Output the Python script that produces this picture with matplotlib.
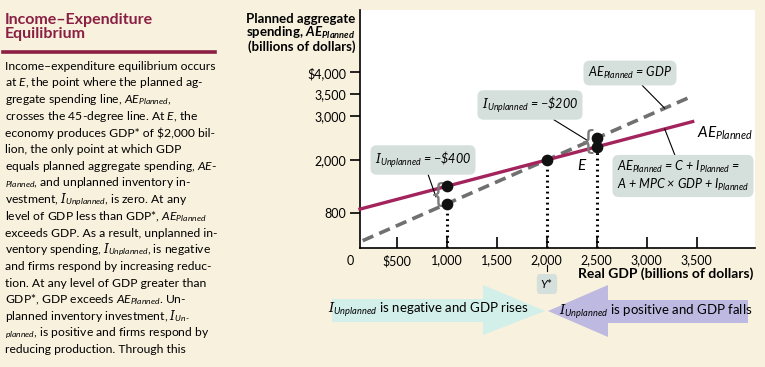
import numpy as np
import matplotlib.pyplot as plt
from matplotlib.patches import Polygon

plt.rcParams['font.family'] = ['Lato', 'DejaVu Sans']
plt.rcParams['mathtext.fontset'] = 'custom'
plt.rcParams['mathtext.rm'] = 'Lato'
plt.rcParams['mathtext.it'] = 'Lato:italic'
plt.rcParams['mathtext.bf'] = 'DejaVu Serif:italic'
plt.rcParams['mathtext.bfit'] = 'Lato:italic:bold'

# data (billions of dollars)
ae_x = [133, 3460]          # planned aggregate spending line
ae_y = [880, 2876]
deg45_x = [160, 3430]       # 45-degree line
deg45_y = [160, 3430]
dot_x = [1000, 1000, 2000, 2500, 2500]
dot_y = [1400, 1000, 2000, 2500, 2300]
drop_x = [1000, 2000, 2500]
drop_top = [1000, 2000, 2500]
xticks = [500, 1000, 1500, 2000, 2500, 3000, 3500]
xlabels = ['$500', '1,000', '1,500', '2,000', '2,500', '3,000', '3,500']
yticks = [800, 2000, 3000, 3500, 4000]
ylabels = ['800', '2,000', '3,000', '3,500', '$4,000']

W, H = 765, 367
cream = '#f8f1dd'
maroon = '#8a1f43'
pink = '#a3245c'
boxc = '#d5e0dc'

def fx(px):
    return px / W

def fy(py):
    return 1 - py / H

fig = plt.figure(figsize=(W / 100, H / 100), dpi=100, facecolor=cream)
ax = fig.add_axes([fx(360), fy(247.7), (755 - 360) / W, (247.7 - 10) / H])
ax.set_facecolor('white')
ax.set_xlim(133, 4083)
ax.set_ylim(0, 5420)
for s in ['top', 'right']:
    ax.spines[s].set_visible(False)
ax.spines['left'].set_linewidth(1.2)
ax.spines['bottom'].set_linewidth(1.2)

ax.set_xticks(xticks)
ax.set_xticklabels(xlabels)
ax.set_yticks(yticks)
ax.set_yticklabels(ylabels)
ax.tick_params(axis='x', direction='in', length=8, width=1.2, pad=5, labelsize=9)
ax.tick_params(axis='y', direction='out', length=7, width=1.2, pad=3, labelsize=9)

# lines
ax.plot(deg45_x, deg45_y, color='#707070', lw=2.6, dashes=(3.2, 1.8), zorder=2)
ax.plot(ae_x, ae_y, color=pink, lw=2.4, zorder=3, clip_on=False)
for x, t in zip(drop_x, drop_top):
    ax.plot([x, x], [0, t], color='black', lw=2.2, dashes=(0.6, 1.2), zorder=2)
ax.scatter(dot_x, dot_y, s=55, color='#111111', zorder=5)

# braces
for bx, by in [(912, 1200), (2412, 2420)]:
    ax.text(bx, by, '{', fontsize=19, color='#7a7a7a', ha='center', va='center',
            fontfamily='DejaVu Sans', zorder=4)

box = dict(boxstyle='round,pad=0.35,rounding_size=0.5', fc=boxc, ec='none')
line = dict(arrowstyle='-', color='black', lw=0.8, shrinkA=0, shrinkB=0)

ax.annotate(r'$AE_{Planned}$ = GDP', xy=(3180, 3180), xytext=(2833, 3983), fontstyle='italic',
            fontsize=9, ha='center', va='center', bbox=box, arrowprops=line)
ax.annotate(r'$\mathbf{I}_{Unplanned}$ = −\$200', xy=(2400, 2455), xytext=(1833, 3254),
            fontstyle='italic', fontsize=9, ha='center', va='center', bbox=box, arrowprops=line)
ax.annotate(r'$\mathbf{I}_{Unplanned}$ = −\$400', xy=(893, 1156), xytext=(763, 2000),
            fontstyle='italic', fontsize=9, ha='center', va='center', bbox=box, arrowprops=line)
ax.annotate(r'$AE_{Planned}$ = C + $I_{Planned}$ =' + '\n' + r'A + MPC × GDP + $I_{Planned}$',
            xy=(3180, 2708), xytext=(3363, 1635), fontsize=9, fontstyle='italic',
            ha='center', va='center', multialignment='left',
            linespacing=1.1, bbox=box, arrowprops=line)
ax.text(3503, 2615, r'$AE_{Planned}$', fontsize=11, ha='left', va='center')
ax.text(2350, 1870, r'$E$', fontsize=11, ha='center', va='center')

# axis texts
fig.text(fx(350), fy(261), '0', fontsize=9, ha='center', va='center')
fig.text(fx(355), fy(33), 'Planned aggregate\nspending, ' + r'$\mathbfit{AE}_{\mathbfit{Planned}}$'
         + '\n(billions of dollars)', fontsize=9.5, fontweight='bold', ha='right', va='center',
         linespacing=1.0)
fig.text(fx(753), fy(274), 'Real GDP (billions of dollars)', fontsize=10, fontweight='bold',
         ha='right', va='center')
fig.add_artist(plt.Line2D([fx(546.7), fx(546.7)], [fy(265), fy(271)], color='black', lw=0.8))
fig.text(fx(547), fy(284), r'$Y$*', fontsize=8.5, ha='center', va='center',
         bbox=dict(boxstyle='round,pad=0.3', fc=boxc, ec='none'))

# direction arrows
left_arrow = [(332, 299), (483, 299), (483, 285), (545, 311), (483, 335), (483, 322), (332, 322)]
right_arrow = [(748, 300), (608, 300), (608, 285), (548, 311), (608, 337), (608, 323), (748, 323)]
fig.add_artist(Polygon([(fx(a), fy(b)) for a, b in left_arrow], closed=True,
                       fc='#d3efe9', ec='none', transform=fig.transFigure))
fig.add_artist(Polygon([(fx(a), fy(b)) for a, b in right_arrow], closed=True,
                       fc='#bdb9e1', ec='none', transform=fig.transFigure))
fig.text(fx(428), fy(310), r'$\mathbf{I}_{Unplanned}$ is negative and GDP rises', fontsize=9.5,
         ha='center', va='center')
fig.text(fx(656), fy(312), r'$\mathbf{I}_{Unplanned}$ is positive and GDP falls', fontsize=9.5,
         ha='center', va='center')

# side panel
fig.text(fx(5), fy(27), 'Income–Expenditure\nEquilibrium', fontsize=11.5, fontweight='bold',
         color=maroon, ha='left', va='center', linespacing=1.05)
fig.add_artist(plt.Line2D([fx(3), fx(215)], [fy(52), fy(52)], color=maroon, lw=2.6))
body = [
    'Income–expenditure equilibrium occurs',
    r'at $E$, the point where the planned ag-',
    r'gregate spending line, $AE_{Planned}$,',
    r'crosses the 45-degree line. At $E$, the',
    'economy produces GDP* of $2,000 bil-',
    'lion, the only point at which GDP',
    r'equals planned aggregate spending, $AE$-',
    r'${}_{Planned}$, and unplanned inventory in-',
    r'vestment, $\mathbf{I}_{Unplanned}$, is zero. At any',
    r'level of GDP less than GDP*, $AE_{Planned}$',
    'exceeds GDP. As a result, unplanned in-',
    r'ventory spending, $\mathbf{I}_{Unplanned}$, is negative',
    'and firms respond by increasing reduc-',
    'tion. At any level of GDP greater than',
    r'GDP*, GDP exceeds $AE_{Planned}$. Un-',
    r'planned inventory investment, $\mathbf{I}_{Un\text{-}}$',
    r'${}_{planned}$, is positive and firms respond by',
    'reducing production. Through this',
]
for i, s in enumerate(body):
    fig.text(fx(5), fy(66 + i * 16.7), s, fontsize=8.7, ha='left', va='center')

fig.savefig('out.png', dpi=100, facecolor=cream)
